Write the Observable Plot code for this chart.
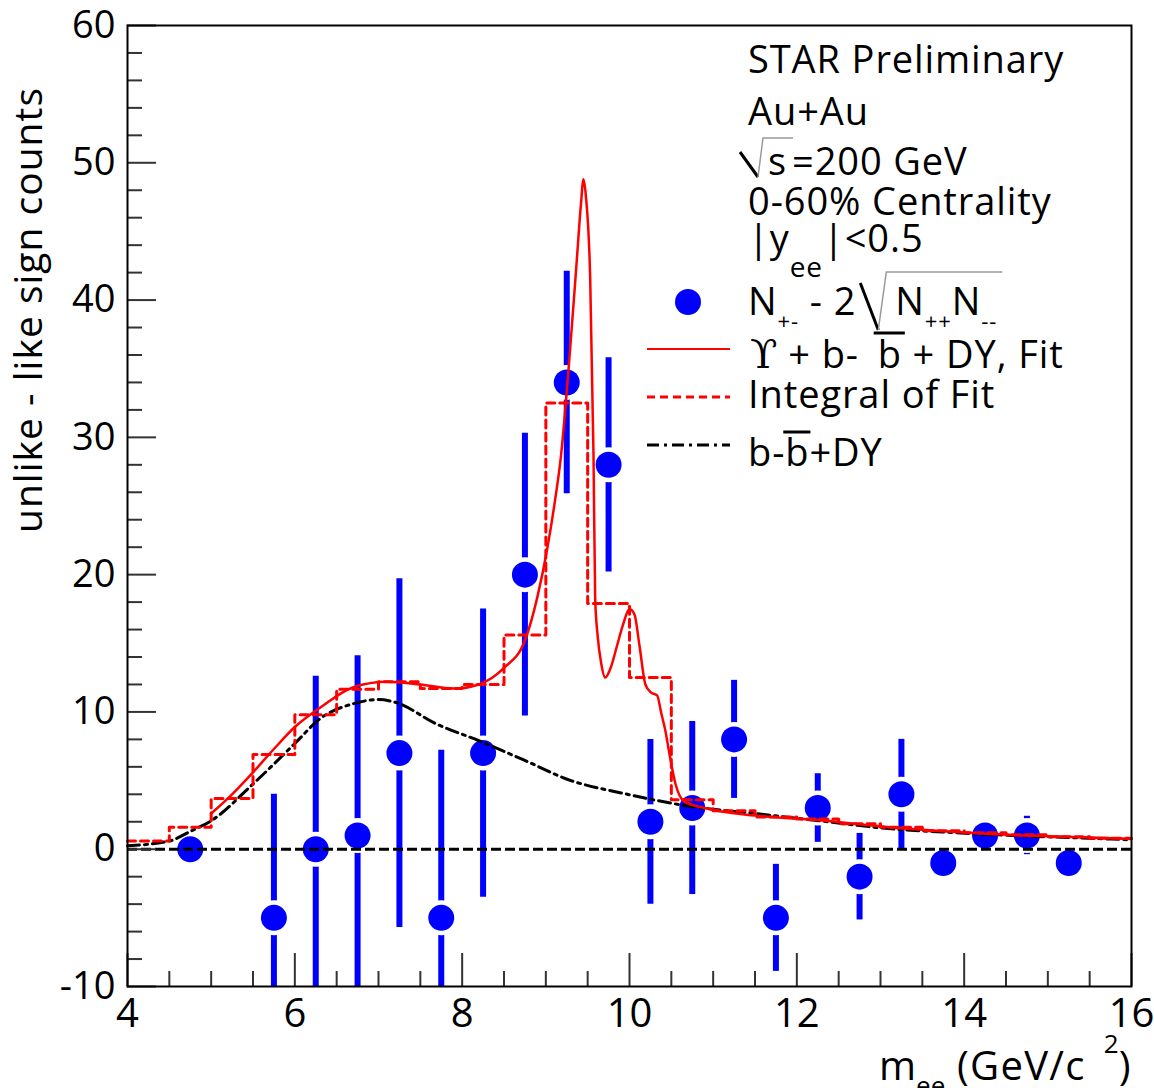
<!DOCTYPE html>
<html>
<head>
<meta charset="utf-8">
<script src="https://cdn.jsdelivr.net/npm/d3@7"></script>
<script src="https://cdn.jsdelivr.net/npm/@observablehq/plot@0.6"></script>
<style>
  html, body { margin: 0; padding: 0; background: #fff; }
  svg text { white-space: pre; }
</style>
</head>
<body>
<div id="chart"></div>
<script>
// ---- data ----
const massBins = [4.75, 5.75, 6.25, 6.75, 7.25, 7.75, 8.25, 8.75, 9.25, 9.75, 10.25, 10.75, 11.25, 11.75, 12.25, 12.75, 13.25, 13.75, 14.25, 14.75, 15.25];
const counts   = [0, -5, 0, 1, 7, -5, 7, 20, 34, 28, 2, 3, 8, -5, 3, -2, 4, -1, 1, 1, -1];
const errors   = [0, 9, 12.6, 13.1, 12.7, 12.2, 10.5, 10.3, 8.1, 7.8, 6, 6.3, 4.3, 3.9, 2.5, 3.15, 4, 0, 0, 1.4, 0];

const fitMass   = [5.0, 5.25, 5.5, 5.75, 6.0, 6.3, 6.7, 7.1, 7.5, 7.9, 8.2, 8.5, 8.75, 8.9, 9.02, 9.1, 9.18, 9.29, 9.37, 9.42, 9.45, 9.48, 9.53, 9.57, 9.59, 9.62, 9.66, 9.71, 9.78, 9.85, 9.92, 10.0, 10.06, 10.12, 10.19, 10.26, 10.33, 10.38, 10.43, 10.47, 10.55, 10.65, 10.9, 11.5, 12.3, 13.1, 13.9, 14.7, 15.5, 16.0];
const fitCounts = [2.6, 4.0, 5.6, 7.3, 8.9, 10.3, 11.8, 12.2, 12.0, 11.7, 12.0, 13.2, 15.2, 18.4, 22.0, 25.0, 28.6, 36.4, 42.9, 47.0, 48.8, 47.5, 41.6, 28.6, 18.2, 15.5, 13.6, 12.5, 13.3, 14.8, 16.3, 17.5, 17.1, 14.8, 12.0, 11.4, 11.2, 9.9, 8.6, 7.2, 4.75, 3.5, 3.0, 2.45, 2.1, 1.6, 1.25, 1.0, 0.85, 0.75];

const bgMass   = [4.0, 4.5, 4.75, 5.0, 5.5, 6.0, 6.3, 6.7, 7.0, 7.2, 7.7, 8.2, 8.7, 9.3, 9.9, 10.7, 11.5, 12.3, 13.1, 13.9, 14.7, 15.5, 16.0];
const bgCounts = [0.25, 0.6, 1.3, 2.07, 4.75, 7.7, 9.5, 10.6, 10.9, 10.7, 9.1, 7.9, 6.6, 5.0, 4.1, 3.15, 2.6, 2.05, 1.5, 1.2, 0.97, 0.8, 0.68];

const histEdges  = [4, 4.5, 5, 5.5, 6, 6.5, 7, 7.5, 8, 8.5, 9, 9.5, 10, 10.5, 11, 11.5, 12, 12.5, 13, 13.5, 14, 14.5, 15, 15.5, 16];
const histValues = [0.6, 1.6, 3.7, 6.9, 9.8, 11.65, 12.2, 11.7, 12.0, 15.6, 32.5, 17.9, 12.5, 3.6, 2.8, 2.35, 2.2, 1.85, 1.6, 1.35, 1.2, 1.05, 0.9, 0.8];

const xMajorTicks = [4, 6, 8, 10, 12, 14, 16];
const xMinorTicks = [4.5, 5, 5.5, 6.5, 7, 7.5, 8.5, 9, 9.5, 10.5, 11, 11.5, 12.5, 13, 13.5, 14.5, 15, 15.5];
const yMajorTicks = [-10, 0, 10, 20, 30, 40, 50, 60];
const yMinorTicks = [-8, -6, -4, -2, 2, 4, 6, 8, 12, 14, 16, 18, 22, 24, 26, 28, 32, 34, 36, 38, 42, 44, 46, 48, 52, 54, 56, 58];

// ---- layout ----
const W = 1154, H = 1088;
const M = {top: 25, right: 23, bottom: 102, left: 127};
const innerW = W - M.left - M.right, innerH = H - M.top - M.bottom;
const FONT = "'Open Sans', 'Noto Sans', sans-serif";
const FS = 38;
const LS = 0.9;

const points = massBins.map((x, i) => ({x, y: counts[i], e: errors[i]}));
const withErr = points.filter(d => d.e > 0);
const fit = fitMass.map((x, i) => ({x, y: fitCounts[i]}));
const bg = bgMass.map((x, i) => ({x, y: bgCounts[i]}));
const hist = histEdges.map((x, i) => ({x, y: histValues[Math.min(i, histValues.length - 1)]}));

const svg = Plot.plot({
  width: W, height: H,
  marginTop: M.top, marginRight: M.right, marginBottom: M.bottom, marginLeft: M.left,
  x: {domain: [4, 16]},
  y: {domain: [-10, 60]},
  style: {fontFamily: FONT, background: "#fff", color: "#000", overflow: "visible"},
  marks: [
    Plot.ruleX(withErr, {x: "x", y1: d => d.y - d.e, y2: d => d.y + d.e, stroke: "#0000ff", strokeWidth: 6, clip: true}),
    Plot.dot(points, {x: "x", y: "y", r: 17.5, fill: "#fff", stroke: "none"}),
    Plot.dot(points, {x: "x", y: "y", r: 13, fill: "#0000ff", stroke: "none"}),
    Plot.ruleY([0], {stroke: "#000", strokeWidth: 3, strokeDasharray: "10,4"}),
    Plot.line(bg, {x: "x", y: "y", stroke: "#000", strokeWidth: 3, strokeDasharray: "12,5,3,5", curve: "monotone-x"}),
    Plot.line(hist, {x: "x", y: "y", stroke: "#ff0000", strokeWidth: 3, strokeDasharray: "8,5", curve: "step-after"}),
    Plot.line(fit, {x: "x", y: "y", stroke: "#ff0000", strokeWidth: 2.5, curve: "monotone-x"}),
    Plot.ruleX(xMinorTicks, {x: d => d, insetTop: innerH - 15, stroke: "#333", strokeWidth: 2}),
    Plot.ruleX(xMajorTicks, {x: d => d, insetTop: innerH - 33, stroke: "#333", strokeWidth: 2}),
    Plot.ruleY(yMinorTicks, {y: d => d, insetRight: innerW - 15, stroke: "#333", strokeWidth: 2}),
    Plot.ruleY(yMajorTicks, {y: d => d, insetRight: innerW - 29, stroke: "#333", strokeWidth: 2}),
    Plot.axisX(xMajorTicks, {tickSize: 0, tickPadding: 12, fontSize: 40, label: null, tickFormat: d => String(d)}),
    Plot.axisY(yMajorTicks, {tickSize: 0, tickPadding: 12, fontSize: 38, label: null, tickFormat: d => String(d)}),
    Plot.frame({stroke: "#000", strokeWidth: 2})
  ]
});
document.getElementById("chart").append(svg);

// ---- annotations ----
const g = d3.select(svg).append("g").attr("fill", "#000").attr("text-anchor", "start");

function seg(x, y, t, opt = {}) {
  const el = g.append("text")
    .attr("x", x).attr("y", y + (opt.dy || 0))
    .attr("text-anchor", "start")
    .attr("font-size", opt.size || FS)
    .attr("font-family", opt.family || FONT)
    .attr("letter-spacing", opt.ls != null ? opt.ls : LS)
    .text(t);
  return el.node().getComputedTextLength();
}
function stroke(d, color, w) {
  g.append("path").attr("d", d).attr("fill", "none").attr("stroke", color).attr("stroke-width", w);
}

// y axis title
g.append("text")
  .attr("transform", "translate(42,310) rotate(-90)")
  .attr("text-anchor", "middle")
  .attr("font-size", 39).attr("font-family", FONT)
  .attr("letter-spacing", 1)
  .text("unlike - like sign counts");

// x axis title
{
  let x = 879, y = 1080;
  x += seg(x, y, "m", {size: 40, ls: 0});
  x += seg(x, y, "ee", {size: 26, dy: 15, ls: 0});
  x += seg(x, y, " (GeV/c", {size: 40, ls: 1.3});
  x += 18;
  x += seg(x, y, "2", {size: 26, dy: -27, ls: 0});
  seg(x, y, ")", {size: 40, ls: 0});
}

// text block
seg(748, 73, "STAR Preliminary");
seg(748, 125, "Au+Au");
{
  const y = 175;
  let x = 768;
  x += seg(x, y, "s");
  stroke(`M740,${y - 23} L758,${y + 2}`, "#000", 3);
  stroke(`M758,${y + 2} L763,${y - 37} L${768 + 25},${y - 37}`, "#999", 1.5);
  x += 5;
  seg(x, y, "=200 GeV");
}
seg(748, 215, "0-60% Centrality");
{
  const y = 252;
  let x = 748;
  x += seg(x, y, "|y");
  x += seg(x, y, "ee", {size: 28, dy: 25});
  seg(x, y, "|<0.5");
}
{
  const y = 315;
  let x = 748;
  x += seg(x, y, "N");
  x += seg(x, y, "+-", {size: 22, dy: 14});
  x += seg(x, y, " - 2");
  const rx = x;
  x = rx + 39;
  x += seg(x, y, "N");
  x += seg(x, y, "++", {size: 22, dy: 14});
  x += seg(x, y, "N");
  x += seg(x, y, "--", {size: 22, dy: 14});
  stroke(`M${rx + 4},${y - 32} L${rx + 22},${y + 15}`, "#000", 3);
  stroke(`M${rx + 22},${y + 15} L${rx + 30},${y - 43} L${x + 5},${y - 43}`, "#999", 1.5);
}
{
  const y = 368;
  let x = 750;
  x += seg(x, y, "\u03D2", {size: 40, family: "'DejaVu Serif', 'Liberation Serif', serif", ls: 0});
  x += seg(x, y, " + b- ");
  x += 8;
  const bx = x;
  x += seg(x, y, "b");
  stroke(`M${bx - 4},${y - 35} L${x + 3},${y - 35}`, "#000", 3);
  seg(x, y, " + DY, Fit");
}
seg(748, 408, "Integral of Fit");
{
  const y = 466;
  let x = 748;
  x += seg(x, y, "b-");
  const bx = x;
  x += seg(x, y, "b");
  stroke(`M${bx - 2},${y - 34} L${x + 1},${y - 34}`, "#000", 3);
  seg(x, y, "+DY");
}

// legend samples
g.append("circle").attr("cx", 688).attr("cy", 302).attr("r", 13).attr("fill", "#0000ff");
stroke("M647,349 L730,349", "#ff0000", 2);
g.append("path").attr("d", "M647,397 L730,397").attr("stroke", "#ff0000").attr("stroke-width", 3).attr("stroke-dasharray", "8,5").attr("fill", "none");
g.append("path").attr("d", "M647,445 L730,445").attr("stroke", "#000").attr("stroke-width", 3).attr("stroke-dasharray", "12,5,3,5").attr("fill", "none");
</script>
</body>
</html>
